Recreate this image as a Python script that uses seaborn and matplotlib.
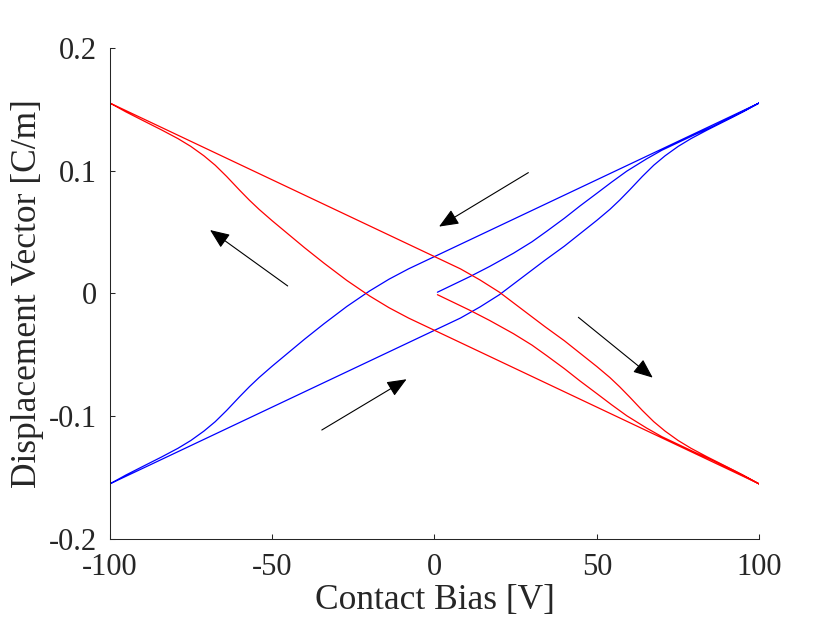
import matplotlib.pyplot as plt
import pandas as pd
import seaborn as sns

# --- values ---
# blue loop: initial branch (0 -> 100 V), then 100 -> -100 V, then -100 -> 100 V
blue_init_x = [0.9, 5, 10.9, 17, 24.3, 30, 34.5, 40, 44.8, 50, 54.5, 59.2, 65.3, 70,
               75.6, 80, 85.8, 92, 100]
blue_init_y = [0.001, 0.0062, 0.0137, 0.0220, 0.0327, 0.0420, 0.0505, 0.0612, 0.0712,
               0.0815, 0.0905, 0.0995, 0.1095, 0.1165, 0.1235, 0.1290, 0.1360, 0.1440, 0.1550]

blue_down_x = [100, 80, 60, 40, 20, 0, -8, -14, -20, -27, -34, -40, -45, -50, -54, -57,
               -60, -64, -67.5, -71, -75, -79, -84, -90, -95, -100]
blue_down_y = [0.1550, 0.1300, 0.1050, 0.0800, 0.0550, 0.0300, 0.0200, 0.0116, 0.0020,
               -0.0106, -0.0246, -0.0372, -0.0482, -0.0592, -0.0684, -0.0759, -0.0840,
               -0.0952, -0.1043, -0.1120, -0.1196, -0.1260, -0.1330, -0.1410, -0.1477, -0.1550]

blue_up_x = [-100, -80, -60, -40, -20, 0, 8, 14, 20, 27, 34, 40, 45, 50, 54, 57, 60, 64,
             67.5, 71, 75, 79, 84, 90, 95, 100]
blue_up_y = [-0.1550, -0.1300, -0.1050, -0.0800, -0.0550, -0.0300, -0.0200, -0.0110,
             -0.0010, 0.0130, 0.0270, 0.0385, 0.0490, 0.0595, 0.0684, 0.0759, 0.0840,
             0.0952, 0.1043, 0.1120, 0.1196, 0.1260, 0.1330, 0.1410, 0.1477, 0.1550]

# red loop: same bias sweep, opposite polarisation
red_init_x = [0.9, 5, 10.9, 17, 24.3, 30, 34.5, 40, 44.8, 50, 54.5, 59.2, 65.3, 70,
              75.6, 80, 85.8, 92, 100]
red_init_y = [-0.001, -0.0062, -0.0137, -0.0220, -0.0327, -0.0420, -0.0505, -0.0612, -0.0712,
              -0.0815, -0.0905, -0.0995, -0.1095, -0.1165, -0.1235, -0.1290, -0.1360, -0.1440, -0.1550]

red_left_x = [100, 80, 60, 40, 20, 0, -8, -14, -20, -27, -34, -40, -45, -50, -54, -57,
              -60, -64, -67.5, -71, -75, -79, -84, -90, -95, -100]
red_left_y = [-0.1550, -0.1300, -0.1050, -0.0800, -0.0550, -0.0300, -0.0200, -0.0116, -0.0020,
              0.0106, 0.0246, 0.0372, 0.0482, 0.0592, 0.0684, 0.0759, 0.0840,
              0.0952, 0.1043, 0.1120, 0.1196, 0.1260, 0.1330, 0.1410, 0.1477, 0.1550]

red_right_x = [-100, -80, -60, -40, -20, 0, 8, 14, 20, 27, 34, 40, 45, 50, 54, 57, 60, 64,
               67.5, 71, 75, 79, 84, 90, 95, 100]
red_right_y = [0.1550, 0.1300, 0.1050, 0.0800, 0.0550, 0.0300, 0.0200, 0.0110,
               0.0010, -0.0130, -0.0270, -0.0385, -0.0490, -0.0595, -0.0684, -0.0759, -0.0840,
               -0.0952, -0.1043, -0.1120, -0.1196, -0.1260, -0.1330, -0.1410, -0.1477, -0.1550]

x_ticks = [-100, -50, 0, 50, 100]
x_tick_labels = ["-100", "-50", "0", "50", "100"]
y_ticks = [-0.2, -0.1, 0, 0.1, 0.2]
y_tick_labels = ["-0.2", "-0.1", "0", "0.1", "0.2"]

# direction arrows (tail, tip) in data units
arrows = [
    ((28.9, 0.0983), (1.4, 0.0544)),
    ((-45.2, 0.0061), (-69.1, 0.0516)),
    ((-34.7, -0.1111), (-8.6, -0.0698)),
    ((44.3, -0.0194), (67.2, -0.0685)),
]

blue_x = blue_init_x + blue_down_x + blue_up_x
blue_y = blue_init_y + blue_down_y + blue_up_y
red_x = red_init_x + red_left_x + red_right_x
red_y = red_init_y + red_left_y + red_right_y

df = pd.DataFrame({
    "bias": blue_x + red_x,
    "disp": blue_y + red_y,
    "loop": ["blue"] * len(blue_x) + ["red"] * len(red_x),
})

sns.set_theme(style="ticks")
plt.rcParams["font.family"] = ["Liberation Serif", "DejaVu Serif"]
plt.rcParams["axes.unicode_minus"] = False

fig = plt.figure(figsize=(8.4, 6.3), dpi=100)
ax = fig.add_axes([0.1306, 0.144, 0.7733, 0.7804])

sns.lineplot(data=df, x="bias", y="disp", hue="loop", sort=False, estimator=None,
             palette={"blue": "#0000ff", "red": "#ff0000"}, linewidth=0.9,
             legend=False, ax=ax)

for tail, tip in arrows:
    ax.annotate("", xy=tip, xytext=tail,
                arrowprops=dict(arrowstyle="-|>,head_length=1.2,head_width=0.5",
                                color="black", lw=0.8, shrinkA=0, shrinkB=0,
                                mutation_scale=10))

ax.set_xlim(-100, 100)
ax.set_ylim(-0.2, 0.2)
ax.set_xticks(x_ticks)
ax.set_xticklabels(x_tick_labels)
ax.set_yticks(y_ticks)
ax.set_yticklabels(y_tick_labels)
ax.tick_params(direction="in", length=3.6, width=0.75, labelsize=22, colors="#262626")
ax.tick_params(axis="x", pad=10)
ax.tick_params(axis="y", pad=9)
for side in ["top", "right"]:
    ax.spines[side].set_visible(False)
for side in ["left", "bottom"]:
    ax.spines[side].set_linewidth(0.75)
    ax.spines[side].set_color("#262626")

ax.set_xlabel("Contact Bias [V]", fontsize=25.5, color="#262626", labelpad=1)
ax.set_ylabel("Displacement Vector [C/m]", fontsize=25.5, color="#262626", labelpad=4)

fig.savefig("out.png", dpi=100)
